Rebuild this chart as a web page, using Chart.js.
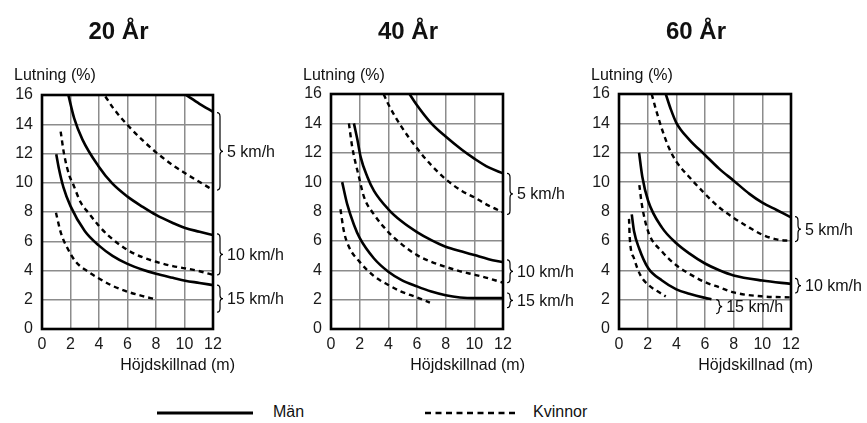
<!DOCTYPE html>
<html><head><meta charset="utf-8">
<script src="https://cdn.jsdelivr.net/npm/chart.js@4.4.1/dist/chart.umd.min.js"></script>
<style>
html,body{margin:0;padding:0;background:#fff;width:867px;height:423px;overflow:hidden;font-family:'Liberation Sans',Arial,sans-serif;}
.panel{position:absolute;top:0;height:380px;}
#legend{position:absolute;left:0;top:398px;width:867px;height:25px;color:#111;font-size:16px;}
#legend span{position:absolute;top:6px;line-height:16px;}
</style></head><body>
<div class="panel" id="p1" style="left:0;width:290px"><canvas id="c1"></canvas></div>
<div class="panel" id="p2" style="left:289px;width:294px"><canvas id="c2"></canvas></div>
<div class="panel" id="p3" style="left:577px;width:290px"><canvas id="c3"></canvas></div>
<div id="legend">
<svg width="867" height="25" style="position:absolute;left:0;top:0">
<line x1="157" y1="15" x2="253" y2="15" stroke="#000" stroke-width="3"/>
<line x1="425" y1="15" x2="518" y2="15" stroke="#000" stroke-width="2.5" stroke-dasharray="6,4.5"/>
</svg>
<span style="left:273px">Män</span>
<span style="left:533px">Kvinnor</span>
</div>
<script>
// ---- data ----
const panelTitles = ['20 År', '40 År', '60 År'];
const seriesNames = ['Män', 'Kvinnor'];
const speedLabels = ['5 km/h', '10 km/h', '15 km/h'];
const xTicks = [0, 2, 4, 6, 8, 10, 12];
const yTicks = [0, 2, 4, 6, 8, 10, 12, 14, 16];
const xLabel = 'Höjdskillnad (m)';
const yLabel = 'Lutning (%)';

// 20 År
const man20_5  = [[10.1,16],[11.05,15.4],[12,14.85]];
const wom20_5  = [[4.45,15.9],[5,15.1],[6,13.95],[7.07,12.9],[8,12.08],[9.18,11.2],[10.05,10.65],[11.06,10.05],[12,9.5]];
const man20_10 = [[1.85,16],[2.26,14.4],[2.84,12.95],[3.95,11.15],[4.93,9.95],[6,9.05],[7.07,8.35],[8,7.8],[9.18,7.25],[10.05,6.9],[11.06,6.65],[12,6.42]];
const wom20_10 = [[1.31,13.5],[1.56,11.9],[1.95,10.4],[2.14,10.0],[2.72,8.65],[3.3,7.9],[3.95,7.1],[4.7,6.35],[6,5.4],[7.07,4.9],[8,4.6],[9.18,4.3],[10.05,4.15],[11.06,3.95],[12,3.7]];
const man20_15 = [[1.0,11.95],[1.2,10.9],[1.5,9.7],[2.0,8.4],[3.0,6.7],[4,5.7],[4.95,5.0],[6,4.45],[7.07,4.05],[8,3.78],[9.18,3.5],[10.05,3.3],[11.06,3.15],[12,3.0]];
const wom20_15 = [[0.98,7.95],[1.33,6.56],[1.8,5.5],[2.37,4.6],[3.3,3.88],[4,3.45],[4.95,2.95],[6,2.55],[7.07,2.25],[7.9,2.05]];
// 40 År
const man40_5  = [[5.48,16],[5.95,15.3],[7.0,14.0],[8,13.1],[9.13,12.2],[10,11.6],[11,11.0],[12,10.6]];
const wom40_5  = [[3.67,16],[4,15.3],[4.9,13.8],[6,12.3],[7,11.15],[8,10.2],[9.13,9.4],[10,8.96],[11,8.4],[12,7.95]];
const man40_10 = [[1.6,14.0],[1.84,12.9],[2.07,11.7],[2.54,10.35],[3,9.4],[4,8.15],[4.9,7.35],[6,6.6],[7,6.05],[8,5.6],[9.13,5.27],[10,5.03],[11,4.75],[12,4.55]];
const wom40_10 = [[1.25,14.0],[1.48,12.4],[1.95,10.35],[2.3,9.0],[3,7.8],[4,6.6],[4.9,5.8],[6,5.03],[7,4.57],[8,4.23],[9.13,3.9],[10,3.7],[11,3.45],[12,3.15]];
const man40_15 = [[0.78,10.0],[1.13,8.5],[1.6,7.1],[2,6.2],[3,4.8],[4,3.9],[4.9,3.35],[6,2.9],[7,2.55],[8,2.3],[9,2.15],[10,2.1],[12,2.1]];
const wom40_15 = [[0.66,8.15],[0.9,6.65],[1.25,5.6],[2,4.57],[3,3.6],[4,3.0],[4.9,2.55],[6,2.15],[6.9,1.8]];
// 60 År
const man60_5  = [[3.26,16],[3.6,15.0],[4,14.04],[4.9,12.9],[6,11.85],[7,10.9],[8,10.1],[9.1,9.2],[10,8.6],[11,8.1],[12,7.6]];
const wom60_5  = [[2.28,16],[2.56,15.0],[3,13.6],[3.5,12.3],[4,11.4],[4.9,10.35],[6,9.2],[7,8.27],[8,7.57],[9.1,6.9],[10,6.42],[11,6.1],[12,6.0]];
const man60_10 = [[1.4,12.0],[1.63,10.35],[2.03,8.73],[3,6.9],[4,5.84],[4.9,5.15],[6,4.46],[7,4.0],[8,3.65],[10,3.3],[12,3.07]];
const wom60_10 = [[1.42,9.8],[1.59,8.5],[2.03,6.65],[3,5.27],[4,4.34],[4.9,3.76],[6,3.19],[7,2.84],[8,2.49],[10,2.22],[12,2.15]];
const man60_15 = [[0.89,7.8],[1.05,6.65],[1.4,5.5],[2.03,4.15],[3,3.3],[4,2.7],[4.9,2.4],[6,2.12],[6.45,2.03]];
const wom60_15 = [[0.7,7.5],[0.75,6.2],[1.05,4.8],[1.5,3.65],[2.1,2.96],[2.8,2.5],[3.26,2.22]];

// braces: [low y, high y, x anchor] per speed
const braces20 = [[9.5,14.8,12],[3.7,6.5,12],[1.15,3.0,12]];
const braces40 = [[7.8,10.6,12],[3.15,4.7,12],[1.45,2.45,12]];
const braces60 = [[5.95,7.65,12],[2.45,3.45,12],[1.05,2.0,6.5]];

// ---- chart setup ----
const FONT = "'Liberation Sans', Arial, sans-serif";
Chart.defaults.font.family = FONT;
Chart.defaults.font.size = 16;
Chart.defaults.color = '#1a1a1a';

const toPts = arr => arr.map(p => ({x: p[0], y: p[1]}));

function ds(arr, dashed) {
  return {
    label: dashed ? seriesNames[1] : seriesNames[0],
    data: toPts(arr),
    borderColor: '#000',
    borderWidth: dashed ? 2.4 : 2.6,
    borderDash: dashed ? [5, 4] : [],
    pointRadius: 0,
    fill: false,
    cubicInterpolationMode: 'monotone',
    borderCapStyle: 'butt'
  };
}

const decor = {
  id: 'decor',
  afterDraw(chart, args, opts) {
    const ctx = chart.ctx, a = chart.chartArea;
    const xs = chart.scales.x, ys = chart.scales.y;
    ctx.save();
    // frame
    ctx.strokeStyle = '#000';
    ctx.lineWidth = 2.6;
    ctx.strokeRect(a.left, a.top, a.right - a.left, a.bottom - a.top);
    // title
    ctx.fillStyle = '#111';
    ctx.font = 'bold 24px ' + FONT;
    ctx.textAlign = 'center';
    ctx.textBaseline = 'alphabetic';
    ctx.fillText(opts.title, (a.left + a.right) / 2 - 9, 39);
    // y label
    ctx.font = '16px ' + FONT;
    ctx.textAlign = 'left';
    ctx.fillText(yLabel, a.left - 28, 80);
    // x label
    ctx.textAlign = 'right';
    ctx.fillText(xLabel, a.right + 22, 370);
    // braces
    ctx.lineWidth = 1.2;
    ctx.strokeStyle = '#000';
    opts.braces.forEach((b, i) => {
      const y1 = ys.getPixelForValue(b[1]);
      const y2 = ys.getPixelForValue(b[0]);
      const x0 = xs.getPixelForValue(b[2]) + 4;
      const w = 6, ym = (y1 + y2) / 2;
      const r = Math.min(4, (y2 - y1) / 4);
      ctx.beginPath();
      ctx.moveTo(x0, y1);
      ctx.quadraticCurveTo(x0 + w / 2, y1, x0 + w / 2, y1 + r);
      ctx.lineTo(x0 + w / 2, ym - r);
      ctx.quadraticCurveTo(x0 + w / 2, ym, x0 + w, ym);
      ctx.quadraticCurveTo(x0 + w / 2, ym, x0 + w / 2, ym + r);
      ctx.lineTo(x0 + w / 2, y2 - r);
      ctx.quadraticCurveTo(x0 + w / 2, y2, x0, y2);
      ctx.stroke();
      ctx.textAlign = 'left';
      ctx.textBaseline = 'middle';
      ctx.fillText(speedLabels[i], x0 + w + 4, ym + 1);
    });
    ctx.restore();
  }
};

function makeChart(id, title, curves, braces, padTop, padRight) {
  const datasets = [];
  curves.forEach(c => { datasets.push(ds(c[0], false)); datasets.push(ds(c[1], true)); });
  return new Chart(document.getElementById(id), {
    type: 'line',
    data: { datasets },
    options: {
      responsive: true,
      maintainAspectRatio: false,
      animation: false,
      layout: { padding: { top: padTop, right: padRight, left: 0, bottom: 0 } },
      plugins: { legend: { display: false }, tooltip: { enabled: false }, title: { display: false },
                 decor: { title, braces } },
      scales: {
        x: {
          type: 'linear', min: 0, max: 12,
          afterBuildTicks: s => { s.ticks = xTicks.map(v => ({value: v})); },
          afterFit: s => { s.height = 51; },
          grid: { color: '#8c8c8c', lineWidth: 1.5, drawTicks: false },
          border: { display: false },
          ticks: { padding: 6, maxRotation: 0, color: '#1a1a1a' }
        },
        y: {
          type: 'linear', min: 0, max: 16,
          afterBuildTicks: s => { s.ticks = yTicks.map(v => ({value: v})); },
          afterFit: s => { s.width = 42; },
          grid: { color: '#8c8c8c', lineWidth: 1.5, drawTicks: false },
          border: { display: false },
          ticks: { padding: 9, color: '#1a1a1a' }
        }
      }
    },
    plugins: [decor]
  });
}

makeChart('c1', panelTitles[0], [[man20_5, wom20_5], [man20_10, wom20_10], [man20_15, wom20_15]], braces20, 95, 77);
makeChart('c2', panelTitles[1], [[man40_5, wom40_5], [man40_10, wom40_10], [man40_15, wom40_15]], braces40, 94, 80);
makeChart('c3', panelTitles[2], [[man60_5, wom60_5], [man60_10, wom60_10], [man60_15, wom60_15]], braces60, 94, 76);
</script>
</body></html>
